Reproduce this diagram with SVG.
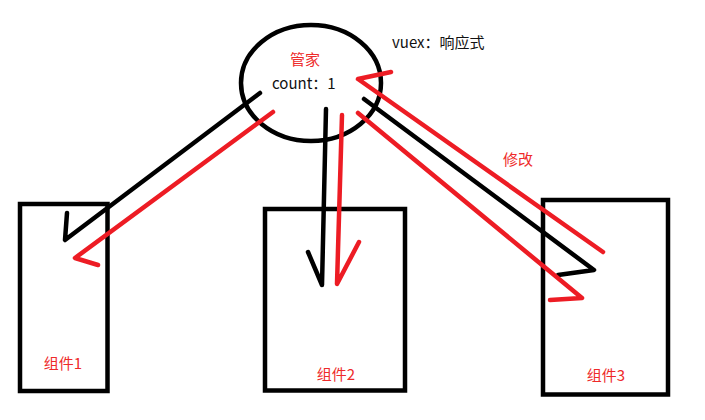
<svg xmlns="http://www.w3.org/2000/svg" width="705" height="420" viewBox="0 0 705 420">
<style>
.box{fill:none;stroke:#000;stroke-width:4.5}
.k{fill:none;stroke:#000;stroke-width:4.5;stroke-linecap:round;stroke-linejoin:round}
.r{fill:none;stroke:#ed1c24;stroke-width:4.5;stroke-linecap:round;stroke-linejoin:round}
.t{font-family:"Noto Sans CJK SC","Liberation Sans",sans-serif;font-size:15px}
.red{fill:#ee2a2a}
.blk{fill:#111}
</style>
<rect width="705" height="420" fill="#fff"/>
<g id="store">
<ellipse cx="311" cy="83" rx="70" ry="58" class="box" stroke-width="4"/>
<text x="305" y="65" class="t red" text-anchor="middle">管家</text>
<text x="272" y="89" class="t blk" font-size="16">count：1</text>
</g>
<g id="note">
<text x="392" y="48" class="t blk">vuex：响应式</text>
</g>
<g id="comp1">
<rect x="20" y="204" width="87.5" height="187" class="box"/>
<text x="63" y="369" class="t red" text-anchor="middle">组件1</text>
</g>
<g id="comp2">
<rect x="265" y="209" width="140" height="181.5" class="box"/>
<text x="336" y="380" class="t red" text-anchor="middle">组件2</text>
</g>
<g id="comp3">
<rect x="543" y="200" width="125" height="194.5" class="box"/>
<text x="606" y="381" class="t red" text-anchor="middle">组件3</text>
</g>
<g id="connectors">
<polyline class="k" points="260,93 65,240 67,213"/>
<polyline class="r" points="273,112 75,258 98,265"/>
<polyline class="k" points="326,109 322,285 308,252"/>
<polyline class="r" points="342,115 337,284 359,242"/>
<polyline class="k" points="364,99 594,270 558,275"/>
<polyline class="r" points="358,113 582,298 550,300"/>
<polyline class="r" points="603,252 358,79 391,72"/>
<text x="518" y="165" class="t red" text-anchor="middle">修改</text>
</g>
</svg>
